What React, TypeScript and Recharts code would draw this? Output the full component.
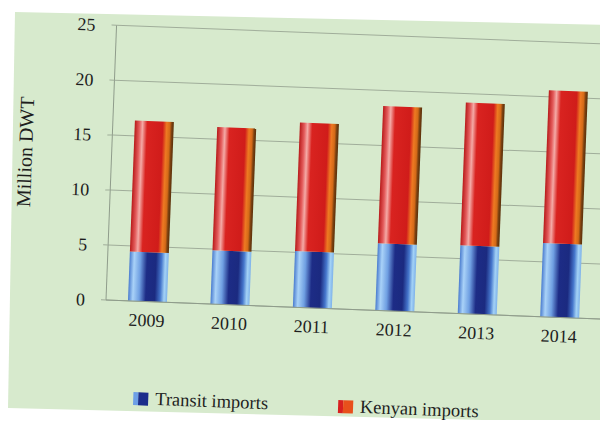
import React from "react";
import { BarChart, Bar, XAxis, YAxis, CartesianGrid } from "recharts";

const years = ["2009", "2010", "2011", "2012", "2013", "2014"];
const transitImports = [4.5, 4.9, 5.1, 6.1, 6.2, 6.7];
const kenyanImports = [11.9, 11.2, 11.7, 12.5, 13.0, 13.9];
const yTicks = [0, 5, 10, 15, 20, 25];

const data = years.map((year, i) => ({
  year,
  transit: transitImports[i],
  kenyan: kenyanImports[i],
}));

const FONT = "'Liberation Serif', 'Times New Roman', serif";
const GREEN = "#d7eacd";
const GRID = "#a0ad9a";

function LegendItem({ label, dark, light }: { label: string; dark: string; light: string }) {
  return (
    <span style={{ display: "inline-flex", alignItems: "center" }}>
      <span style={{ display: "inline-flex", width: 15, height: 13, marginRight: 7 }}>
        <span style={{ width: 5, background: light }} />
        <span style={{ width: 10, background: dark }} />
      </span>
      {label}
    </span>
  );
}

export default function App() {
  return (
    <div style={{ position: "relative", width: 608, height: 428, margin: -8, overflow: "hidden", background: "#fff" }}>
      {/* page background panel */}
      <svg width={608} height={428} style={{ position: "absolute", left: 0, top: 0 }}>
        <polygon points="15,12 608,25 608,300 601,423 8,408" fill={GREEN} />
      </svg>

      <div
        style={{
          position: "absolute",
          left: 0,
          top: 0,
          width: 608,
          height: 428,
          transform: "rotate(2.2deg)",
          transformOrigin: "106px 300px",
          fontFamily: FONT,
          color: "#1e1e1e",
        }}
      >
        <BarChart
          width={608}
          height={428}
          data={data}
          margin={{ top: 25, right: 7, bottom: 98, left: 46 }}
          style={{ fontFamily: FONT }}
        >
          <defs>
            <linearGradient id="blueCyl" x1="0" y1="0" x2="1" y2="0">
              <stop offset="0%" stopColor="#4a7ccf" />
              <stop offset="12%" stopColor="#a9d2f8" />
              <stop offset="28%" stopColor="#6f9fe2" />
              <stop offset="45%" stopColor="#1d2c86" />
              <stop offset="68%" stopColor="#1b2a80" />
              <stop offset="82%" stopColor="#4576cc" />
              <stop offset="92%" stopColor="#a3d2f6" />
              <stop offset="100%" stopColor="#7eb2ea" />
            </linearGradient>
            <linearGradient id="redCyl" x1="0" y1="0" x2="1" y2="0">
              <stop offset="0%" stopColor="#b81a1a" />
              <stop offset="12%" stopColor="#e45c5c" />
              <stop offset="20%" stopColor="#f4aaa6" />
              <stop offset="32%" stopColor="#d92320" />
              <stop offset="72%" stopColor="#d01c1a" />
              <stop offset="82%" stopColor="#ee7a22" />
              <stop offset="90%" stopColor="#d46a18" />
              <stop offset="95%" stopColor="#7a4010" />
              <stop offset="100%" stopColor="#5a300a" />
            </linearGradient>
          </defs>
          <CartesianGrid vertical={false} stroke={GRID} strokeWidth={1} />
          <XAxis
            dataKey="year"
            tick={{ fontSize: 18, fill: "#1e1e1e", fontFamily: FONT }}
            tickLine={false}
            tickSize={6}
            tickMargin={6}
            axisLine={{ stroke: "#8f9c8b" }}
            height={30}
          />
          <YAxis
            domain={[0, 25]}
            ticks={yTicks}
            width={60}
            tick={{ fontSize: 18, fill: "#1e1e1e", fontFamily: FONT }}
            tickLine={{ stroke: GRID }}
            tickSize={5}
            tickMargin={16}
            axisLine={{ stroke: "#8f9c8b" }}
          />
          <Bar dataKey="transit" stackId="a" fill="url(#blueCyl)" barSize={39} isAnimationActive={false} />
          <Bar dataKey="kenyan" stackId="a" fill="url(#redCyl)" barSize={39} isAnimationActive={false} />
        </BarChart>

        <div
          style={{
            position: "absolute",
            left: 20,
            top: 155,
            transform: "translate(-50%, -50%) rotate(-90deg)",
            fontSize: 20,
            whiteSpace: "nowrap",
          }}
        >
          Million DWT
        </div>

        <div
          style={{
            position: "absolute",
            left: 137,
            top: 387,
            display: "flex",
            gap: 70,
            fontSize: 18.5,
            whiteSpace: "nowrap",
          }}
        >
          <LegendItem label="Transit imports" light="#6d9fe6" dark="#1b2d8c" />
          <LegendItem label="Kenyan imports" light="#d82020" dark="#e8501c" />
        </div>
      </div>
    </div>
  );
}
